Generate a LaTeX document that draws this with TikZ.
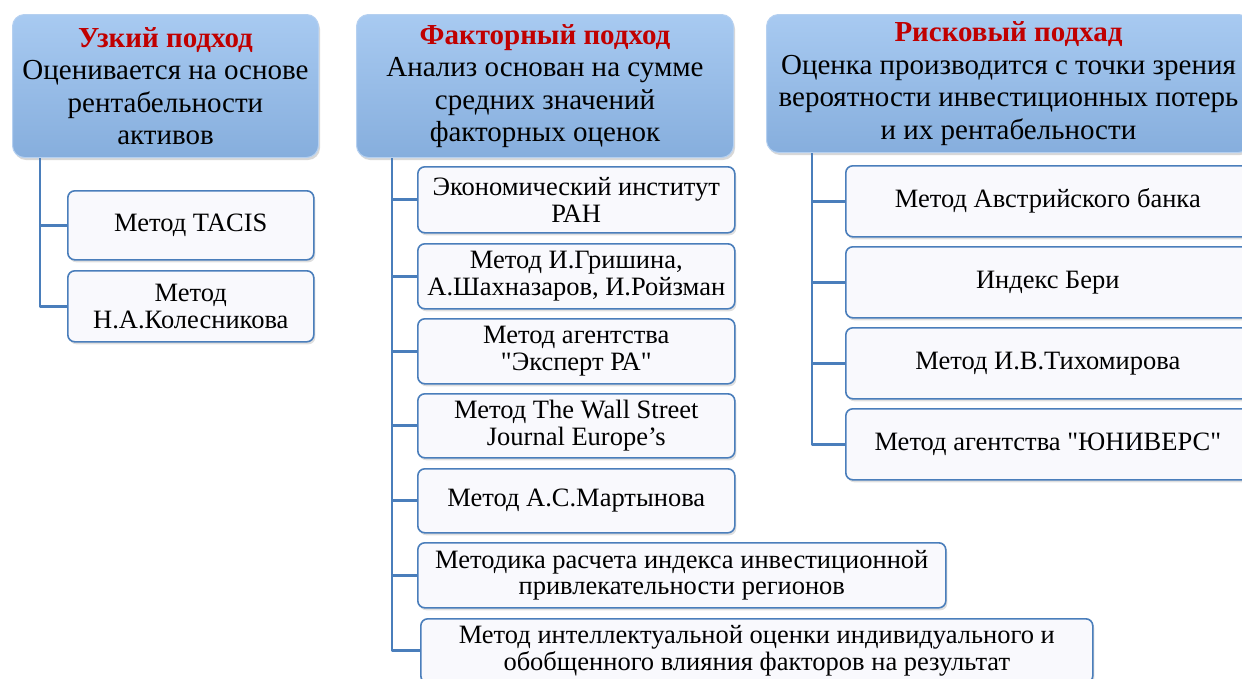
\documentclass[tikz,border=0pt]{standalone}
\usepackage{fontspec}
\setmainfont{Liberation Serif}[Ligatures=TeXOff]
\usetikzlibrary{shadows}
\definecolor{linkblue}{HTML}{4A7EBB}
\definecolor{headtop}{HTML}{A8CAF1}
\definecolor{headbot}{HTML}{86AEDD}
\definecolor{headline}{HTML}{B5D0F0}
\definecolor{titlered}{HTML}{C00000}
\definecolor{itemfill}{HTML}{F9F9FD}
\newcommand{\ttl}[1]{\textcolor{titlered}{\bfseries #1}}
\tikzset{
	head/.style={rounded corners=12pt, draw=headline, line width=1pt, top color=headtop, bottom color=headbot,
		drop shadow={shadow xshift=1.5pt, shadow yshift=-2.5pt, fill=black!30},
		anchor=north west, inner sep=0pt, align=center, font=\fontsize{29}{32.5}\selectfont},
	item/.style={rounded corners=7pt, draw=linkblue, line width=1.6pt, fill=itemfill,
		drop shadow={shadow xshift=1.5pt, shadow yshift=-2.5pt, fill=black!25},
		anchor=north west, inner sep=0pt, align=center, font=\fontsize{26.5}{26.5}\selectfont},
	link/.style={draw=linkblue, line width=2.8pt}
}
\begin{document}
\begin{tikzpicture}[x=1pt, y=-1pt, line join=round]
	\clip (0,0) rectangle (1242,678); % page size
	% top level
	\node[head, minimum width=306pt, minimum height=143pt] (narrow) at (12,14)
		{\ttl{Узкий подход}\\Оценивается на основе\\рентабельности\\активов};
	\node[head, minimum width=377pt, minimum height=143pt] (factor) at (356,14)
		{\ttl{Факторный подход}\\Анализ основан на сумме\\средних значений\\факторных оценок};
	\node[head, minimum width=484pt, minimum height=138pt] (risk) at (766,14)
		{\ttl{Рисковый подхад}\\Оценка производится с точки зрения\\вероятности инвестиционных потерь\\и их рентабельности};
	% narrow approach
	\node[item, minimum width=246pt, minimum height=69pt] (n1) at (67,190) {Метод TACIS};
	\node[item, minimum width=246pt, minimum height=71pt] (n2) at (67,270) {Метод\\Н.А.Колесникова};
	% factor approach
	\node[item, minimum width=317pt, minimum height=66pt] (f1) at (417,166) {Экономический институт\\РАН};
	\node[item, minimum width=317pt, minimum height=65pt] (f2) at (417,243) {Метод И.Гришина,\\А.Шахназаров, И.Ройзман};
	\node[item, minimum width=317pt, minimum height=65pt] (f3) at (417,318) {Метод агентства\\"Эксперт РА"};
	\node[item, minimum width=317pt, minimum height=64pt] (f4) at (417,393) {Метод The Wall Street\\Journal Europe’s};
	\node[item, minimum width=317pt, minimum height=64pt] (f5) at (417,468) {Метод А.С.Мартынова};
	\node[item, minimum width=528pt, minimum height=65pt] (f6) at (417,542) {Методика расчета индекса инвестиционной\\привлекательности регионов};
	\node[item, minimum width=672pt, minimum height=64pt] (f7) at (420,618) {Метод интеллектуальной оценки индивидуального и\\обобщенного влияния факторов на результат};
	% risk approach
	\node[item, minimum width=404pt, minimum height=71pt] (r1) at (845,165) {Метод Австрийского банка};
	\node[item, minimum width=404pt, minimum height=71pt] (r2) at (845,246) {Индекс Бери};
	\node[item, minimum width=404pt, minimum height=71pt] (r3) at (845,327) {Метод И.В.Тихомирова};
	\node[item, minimum width=404pt, minimum height=71pt] (r4) at (845,408) {Метод агентства "ЮНИВЕРС"};
	% connectors
	\coordinate (nroot) at ([xshift=28pt]narrow.south west);
	\coordinate (froot) at ([xshift=36pt]factor.south west);
	\coordinate (rroot) at ([xshift=46pt]risk.south west);
	\foreach \i in {1,2} \draw[link] (nroot) |- (n\i.west);
	\foreach \i in {1,...,7} \draw[link] (froot) |- (f\i.west);
	\foreach \i in {1,...,4} \draw[link] (rroot) |- (r\i.west);
\end{tikzpicture}
\end{document}
